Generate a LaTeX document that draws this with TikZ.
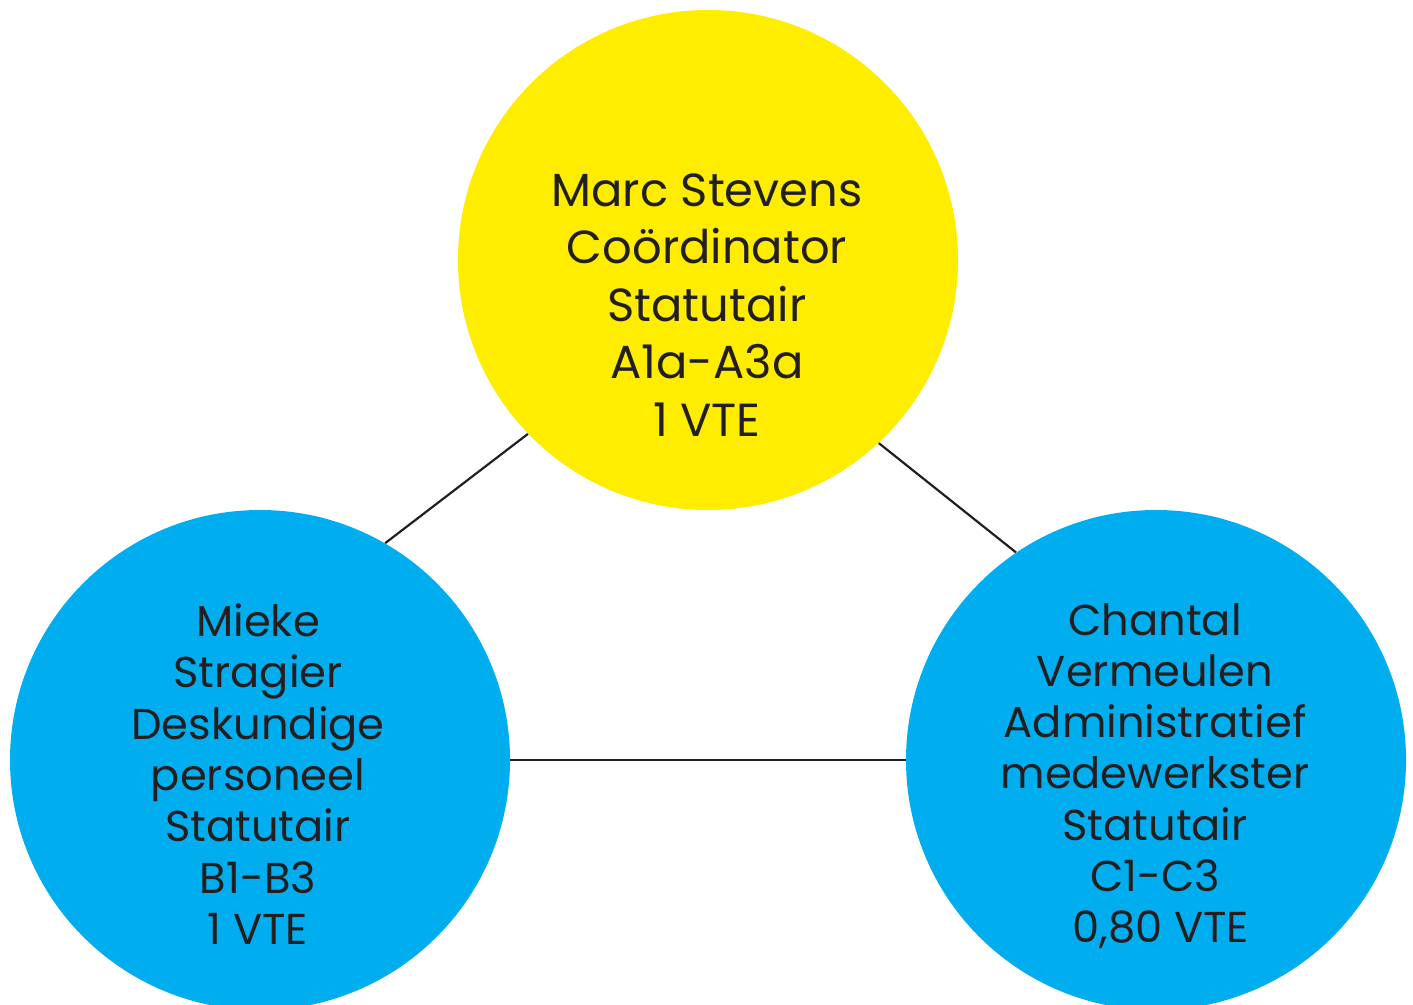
\documentclass[tikz,border=0pt]{standalone}
\usepackage{fontspec}
\setmainfont{Poppins}
\usepackage{xcolor}
\definecolor{geel}{HTML}{FFED00}
\definecolor{blauw}{HTML}{00AEEF}
\definecolor{inkt}{HTML}{231F20}
\tikzset{
    persoon/.style={circle, minimum size=250pt, inner sep=0pt},
    naam/.style={align=center, text=inkt},
    lijn/.style={draw=inkt, line width=1.1pt},
}

\begin{document}
\begin{tikzpicture}[x=0.5pt, y=-0.5pt]
            \clip (0,0) rectangle (1413,1005);
            \node[persoon, fill=geel] (coord) at (708,260) {};
            \node[persoon, fill=blauw] (mieke) at (260,760) {};
            \node[persoon, fill=blauw] (chantal) at (1156,760) {};

            \node[naam, font=\fontsize{23.2}{28.75}\selectfont] (coordtxt) at (707,305)
            {Marc Stevens\\Coördinator\\Statutair\\A1a-A3a\\1 VTE};
            \node[naam, font=\fontsize{21.6}{25.65}\selectfont] (miektxt) at (258,774)
            {Mieke\\Stragier\\Deskundige\\personeel\\Statutair\\B1-B3\\1 VTE};
            \node[naam, font=\fontsize{21.6}{25.65}\selectfont] (chantxt) at (1155,776)
            {Chantal\\Vermeulen\\Administratief\\medewerkster\\Statutair\\C1-C3\\\ 0,80 VTE};

            \draw[lijn] (coord.224) -- (mieke.60);
            \draw[lijn] (coord.313.5) -- (chantal.124);
            \draw[lijn] (mieke.east) -- (chantal.west);
        \end{tikzpicture}
\end{document}
